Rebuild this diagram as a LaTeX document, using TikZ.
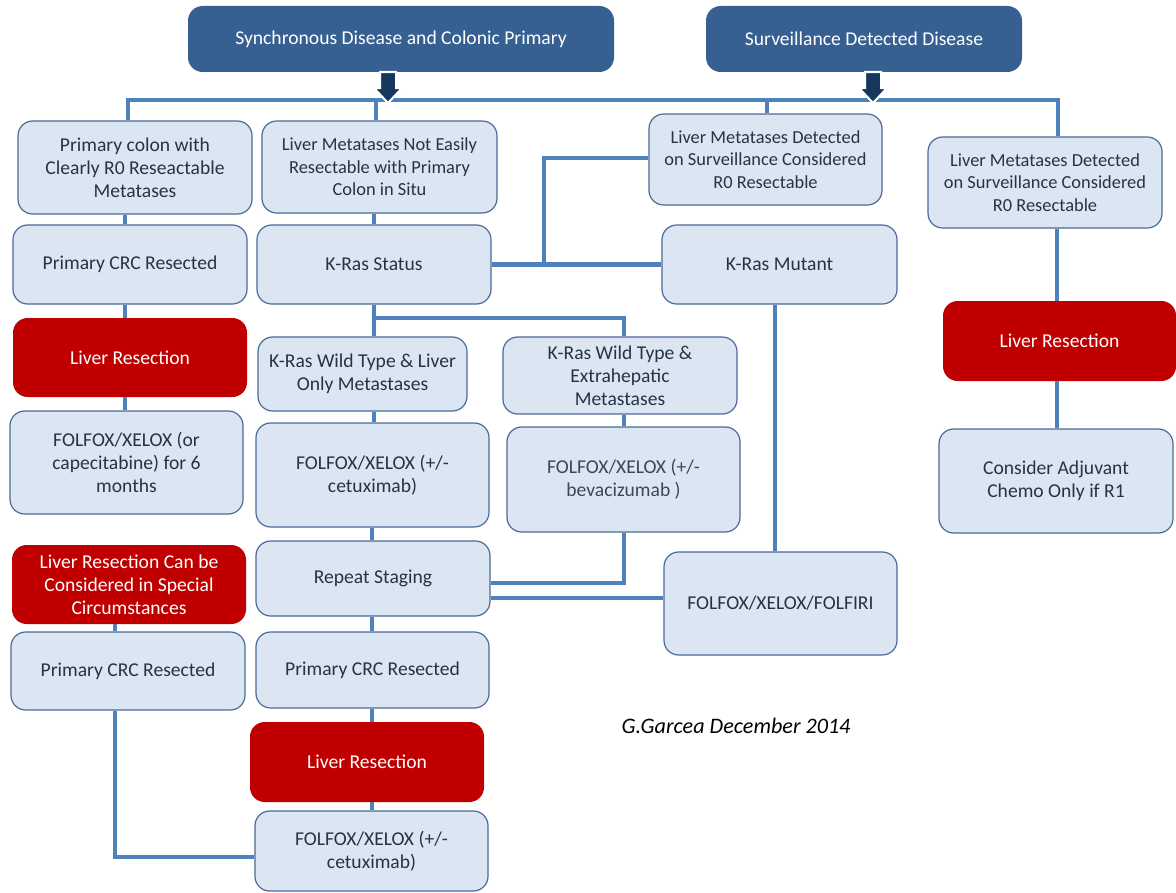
\documentclass[tikz,border=0pt]{standalone}
\usepackage{fontspec}
\setmainfont{Carlito}
\definecolor{topfill}{HTML}{376092}
\definecolor{arrowfill}{HTML}{17375E}
\definecolor{boxfill}{HTML}{DCE6F2}
\definecolor{boxline}{HTML}{4A6A98}
\definecolor{redfill}{HTML}{C00000}
\definecolor{linkc}{HTML}{4F81BD}
\definecolor{txt}{HTML}{243447}
\definecolor{txtgray}{HTML}{3E4656}
\newcommand{\mainsz}{\fontsize{14.7}{17.3}\selectfont}
\newcommand{\smallsz}{\fontsize{13.8}{16.9}\selectfont}
% box from (x1,y1) to (x2,y2) in pixel units
\newcommand{\mkbox}[7]{\node[#6, minimum width={((#4)-(#2))*0.75pt}, minimum height={((#5)-(#3))*0.75pt}] (#1) at ({((#2)+(#4))/2},{((#3)+(#5))/2}) {#7};}
% block arrow pointing down, centred at x = #1
\newcommand{\dnarrow}[1]{\draw[arrowst] ({#1-8},72) -- ({#1+8},72) -- ({#1+8},88) -- ({#1+14},88) -- (#1,103) -- ({#1-14},88) -- ({#1-8},88) -- cycle;}
\begin{document}
\begin{tikzpicture}[x=0.75pt,y=-0.75pt,
  lbox/.style={draw=boxline, line width=0.9pt, fill=boxfill, rounded corners=11pt,
    text=txt, align=center, inner sep=0pt, font=\mainsz},
  sbox/.style={lbox, font=\smallsz},
  rbox/.style={fill=redfill, rounded corners=11pt, text=white, align=center,
    inner sep=0pt, font=\mainsz},
  hbox/.style={fill=topfill, rounded corners=11pt, text=white, align=center,
    inner sep=0pt, font=\mainsz},
  link/.style={draw=linkc, line width=3.6pt},
  arrowst/.style={fill=arrowfill, draw=white, line width=1.5pt, line join=miter}]
\useasboundingbox (0,0) rectangle (1176,892);
\fill[white] (0,0) rectangle (1176,892);

% header boxes
\mkbox{H1}{188}{6}{614}{72}{hbox}{Synchronous Disease and Colonic Primary}
\mkbox{H2}{706}{6}{1022}{72}{hbox}{Surveillance Detected Disease}

% column 1
\mkbox{B1}{18}{121}{252}{214}{lbox}{Primary colon with\\Clearly R0 Reseactable\\Metatases}
\mkbox{B2}{13}{225}{247}{304}{lbox}{Primary CRC Resected}
\mkbox{R1}{13}{318}{247}{397}{rbox}{Liver Resection}
\mkbox{B3}{10}{411}{243}{514}{lbox}{FOLFOX/XELOX (or\\capecitabine) for 6\\months}
\mkbox{R2}{12}{545}{246}{624}{rbox}{Liver Resection Can be\\Considered in Special\\Circumstances}
\mkbox{B4}{11}{632}{245}{710}{lbox}{Primary CRC Resected}

% column 2
\mkbox{C1}{262}{121}{497}{213}{sbox}{Liver Metatases Not Easily\\Resectable with Primary\\Colon in Situ}
\mkbox{C2}{257}{225}{491}{304}{lbox}{K-Ras Status}
\mkbox{C3}{258}{337}{467}{411}{lbox}{K-Ras Wild Type \& Liver\\Only Metastases}
\mkbox{C4}{256}{423}{489}{527}{lbox}{FOLFOX/XELOX (+/-\\cetuximab)}
\mkbox{C5}{256}{541}{490}{616}{lbox}{Repeat Staging}
\mkbox{C6}{256}{632}{489}{708}{lbox}{Primary CRC Resected}
\mkbox{R3}{250}{722}{484}{802}{rbox}{Liver Resection}
\mkbox{C7}{255}{811}{488}{891}{lbox}{FOLFOX/XELOX (+/-\\cetuximab)}

% column 3
\mkbox{D1}{503}{337}{737}{414}{lbox}{K-Ras Wild Type \&\\Extrahepatic\\Metastases}
\mkbox{D2}{507}{427}{740}{532}{lbox, text=txtgray}{FOLFOX/XELOX (+/-\\bevacizumab )}

% column 4
\mkbox{E1}{649}{114}{882}{205}{sbox}{Liver Metatases Detected\\on Surveillance Considered\\R0 Resectable}
\mkbox{E0}{662}{225}{897}{304}{lbox}{K-Ras Mutant}
\mkbox{E2}{664}{552}{897}{655}{lbox}{FOLFOX/XELOX/FOLFIRI}

% column 5
\mkbox{F1}{928}{137}{1162}{228}{sbox}{Liver Metatases Detected\\on Surveillance Considered\\R0 Resectable}
\mkbox{R4}{943}{301}{1176}{381}{rbox}{Liver Resection}
\mkbox{F2}{939}{429}{1173}{533}{lbox}{Consider Adjuvant\\Chemo Only if R1}

% author note
\node[font=\fontsize{16.6}{19}\selectfont\itshape, text=black] (sig) at (736,726) {G.Garcea December 2014};

% routing coordinates
\coordinate (barL) at (128,100);
\coordinate (barR) at (1058,100);
\coordinate (barC) at (376,100);
\coordinate (barE) at (767,100);
\coordinate (colA) at (125,0);
\coordinate (colA2) at (115,0);
\coordinate (colB) at (374,0);
\coordinate (colBb) at (372,0);
\coordinate (colD) at (624,0);
\coordinate (colE) at (775,0);
\coordinate (colF) at (1057,0);
\coordinate (splitY) at (0,318);
\coordinate (kras) at (544,0);
\coordinate (survY) at (0,158);
\coordinate (stgA) at (0,583);
\coordinate (stgB) at (0,598);
\coordinate (botY) at (0,857);

% top distribution bar
\draw[link] (barL |- B1.north) -- (barL) -- (barR) -- (barR |- F1.north);
\draw[link] (barC) -- (barC |- C1.north);
\draw[link] (barE) -- (barE |- E1.north);

% column 1 links
\draw[link] (colA |- B1.south) -- (colA |- B2.north);
\draw[link] (colA |- B2.south) -- (colA |- R1.north);
\draw[link] (colA |- R1.south) -- (colA |- B3.north);
\draw[link] (colA2 |- R2.south) -- (colA2 |- B4.north);
\draw[link] (colA2 |- B4.south) -- (colA2 |- botY) -- (C7.west |- botY);

% column 2 links
\draw[link] (colB |- C1.south) -- (colB |- C2.north);
\draw[link] (colB |- C2.south) -- (colB |- C3.north);
\draw[link] (colB |- splitY) -- (colD |- splitY) -- (colD |- D1.north);
\draw[link] (colB |- C3.south) -- (colB |- C4.north);
\draw[link] (colBb |- C4.south) -- (colBb |- C5.north);
\draw[link] (colBb |- C5.south) -- (colBb |- C6.north);
\draw[link] (colBb |- C6.south) -- (colBb |- R3.north);
\draw[link] (colBb |- R3.south) -- (colBb |- C7.north);

% column 3 links
\draw[link] (colD |- D1.south) -- (colD |- D2.north);
\draw[link] (colD |- D2.south) -- (colD |- stgA) -- (C5.east |- stgA);
\draw[link] (C5.east |- stgB) -- (E2.west |- stgB);

% K-Ras status to mutant and surveillance
\draw[link] (C2.east) -- (E0.west);
\draw[link] (kras |- C2.east) -- (kras |- survY) -- (E1.west |- survY);
\draw[link] (colE |- E0.south) -- (colE |- E2.north);

% column 5 links
\draw[link] (colF |- F1.south) -- (colF |- R4.north);
\draw[link] (colF |- R4.south) -- (colF |- F2.north);

% block arrows from the headers
\dnarrow{388}
\dnarrow{873}
\end{tikzpicture}
\end{document}
